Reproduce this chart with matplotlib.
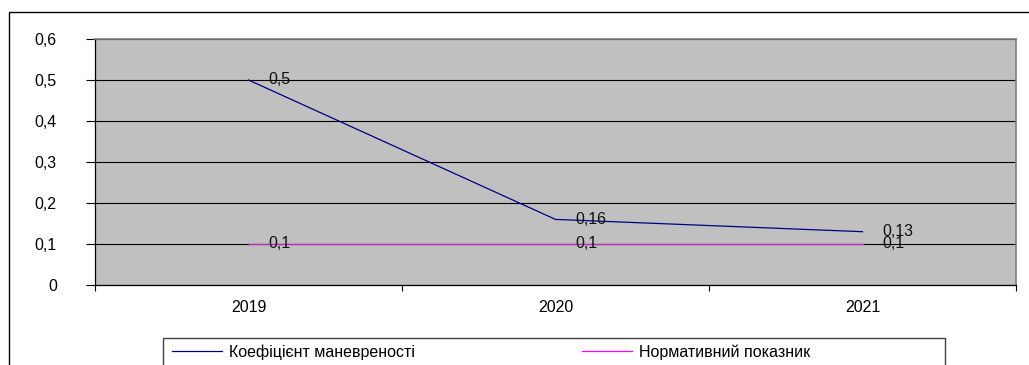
import matplotlib
matplotlib.use("Agg")
import matplotlib.pyplot as plt
from matplotlib.patches import Rectangle
from matplotlib.lines import Line2D

plt.rcParams['font.family'] = ['Liberation Sans', 'DejaVu Sans']

years = ['2019', '2020', '2021']
koef = [0.5, 0.16, 0.13]
norm = [0.1, 0.1, 0.1]
koef_labels = ['0,5', '0,16', '0,13']
norm_labels = ['0,1', '0,1', '0,1']
y_ticks = [0, 0.1, 0.2, 0.3, 0.4, 0.5, 0.6]
y_tick_labels = ['0', '0,1', '0,2', '0,3', '0,4', '0,5', '0,6']
series_names = ['Коефіцієнт маневреності', 'Нормативний показник']

FS = 11.5
W, H = 1029, 365
fig = plt.figure(figsize=(W / 100, H / 100), dpi=100)

# outer chart frame (runs off the right and bottom edges)
fig.patches.append(Rectangle((9 / W, -0.1), 1.2, 1.1 - 12 / H,
                             transform=fig.transFigure, fill=False,
                             edgecolor='black', linewidth=1.0))

ax = fig.add_axes([95 / W, (H - 285) / H, 921 / W, 246 / H])
ax.set_facecolor('#C0C0C0')

x = list(range(1, len(years) + 1))
ax.set_xlim(0.5, len(years) + 0.5)
ax.set_ylim(0, 0.6)

ax.set_yticks(y_ticks)
ax.set_yticklabels(y_tick_labels)
ax.yaxis.grid(True, color='black', linewidth=0.8)
ax.set_axisbelow(True)

# category boundaries carry the tick marks, labels sit at the centres
ax.set_xticks([i + 0.5 for i in range(len(years) + 1)])
ax.set_xticklabels([''] * (len(years) + 1))
ax.set_xticks(x, minor=True)
ax.set_xticklabels(years, minor=True)
ax.tick_params(axis='x', which='major', direction='out', length=4, width=0.8)
ax.tick_params(axis='x', which='minor', length=0, pad=11, labelsize=FS)
ax.tick_params(axis='y', direction='out', length=6.5, width=0.8, pad=21,
               labelsize=FS)

for side in ('left', 'bottom'):
    ax.spines[side].set_color('black')
    ax.spines[side].set_linewidth(0.9)
for side in ('top', 'right'):
    ax.spines[side].set_color('#808080')
    ax.spines[side].set_linewidth(1.2)

l1, = ax.plot(x, koef, color='#000080', linewidth=0.9, zorder=3)
l2, = ax.plot(x, norm, color='#C030C0', linewidth=1.0, zorder=3)

for xi, v, t in zip(x, koef, koef_labels):
    ax.annotate(t, (xi, v), xytext=(14, 0), textcoords='offset points',
                va='center', ha='left', fontsize=FS, color='#111111', zorder=4)
for xi, v, t in zip(x, norm, norm_labels):
    ax.annotate(t, (xi, v), xytext=(14, 0), textcoords='offset points',
                va='center', ha='left', fontsize=FS, color='#111111', zorder=4)

# legend box along the bottom edge
fig.patches.append(Rectangle((163 / W, -0.1), (945 - 163) / W, 0.1 + (H - 338) / H,
                             transform=fig.transFigure, fill=False,
                             edgecolor='#404040', linewidth=1.0))
h1 = Line2D([], [], color='#000080', linewidth=0.9)
h2 = Line2D([], [], color='#FF00FF', linewidth=0.9)
leg = fig.legend([h1, h2], series_names, ncol=2, frameon=False,
                 loc='center left', bbox_to_anchor=(172 / W, (H - 352) / H),
                 handlelength=3.1, handletextpad=0.45, columnspacing=10.5,
                 borderpad=0, borderaxespad=0, fontsize=FS)

fig.savefig('out.png', dpi=100)
